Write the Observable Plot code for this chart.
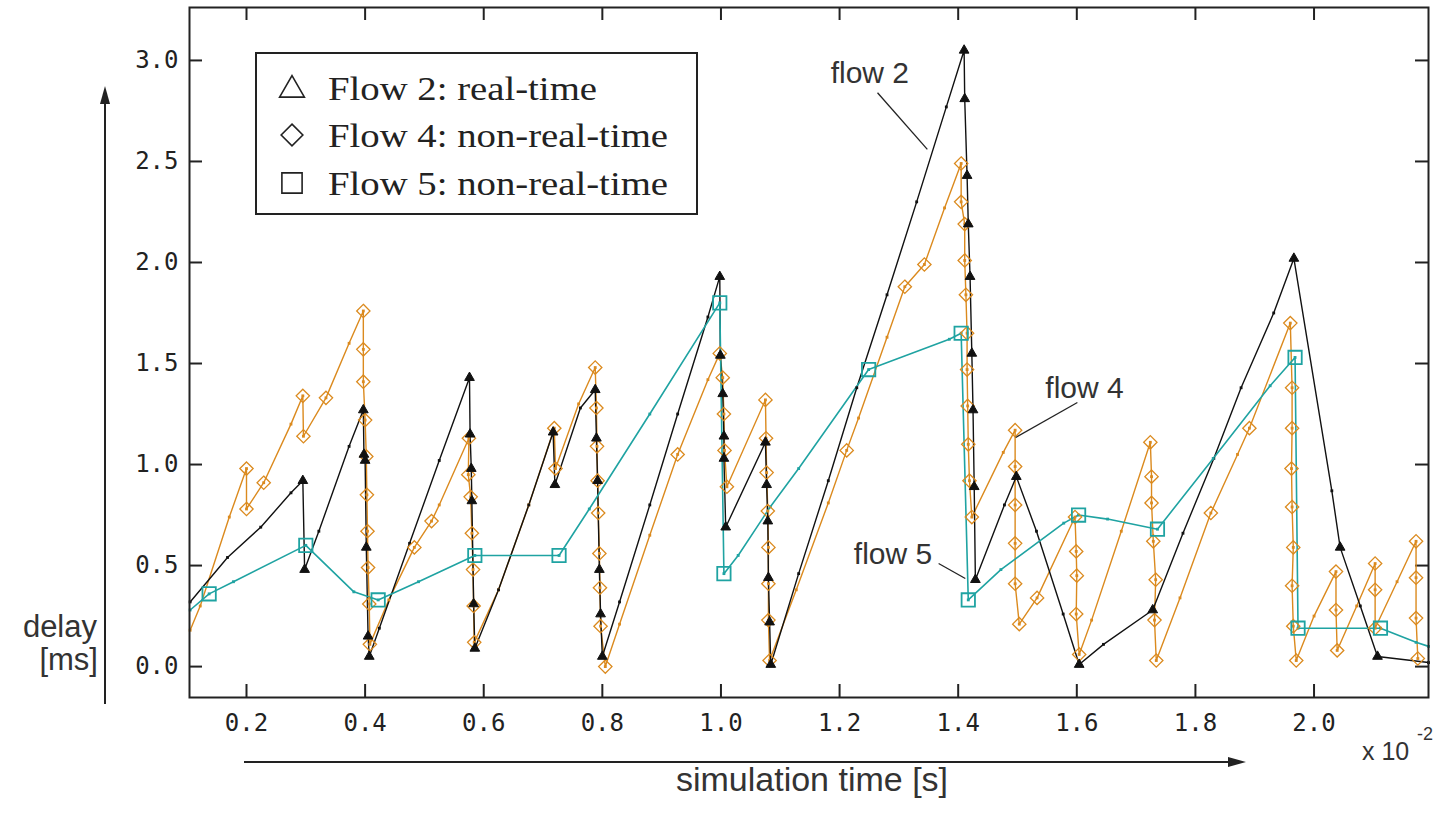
<!DOCTYPE html>
<html><head><meta charset="utf-8">
<script src="https://cdn.jsdelivr.net/npm/d3@7"></script>
<script src="https://cdn.jsdelivr.net/npm/@observablehq/plot@0.6"></script>
<style>
body{margin:0;background:#fff;}
#wrap{position:relative;width:1444px;height:815px;}
#wrap svg{position:absolute;left:0;top:0;}
</style></head><body><div id="wrap"></div>
<script>
// ---- data (time in 10^-2 s, delay in ms); mark 1 = large symbol, 0 = small dot ----
const flow2Time  = [0.105,0.168,0.224,0.275,0.295,0.298,0.322,0.373,0.397,0.398,0.400,0.402,0.405,0.407,0.424,0.475,0.525,0.576,0.577,0.579,0.580,0.583,0.585,0.625,0.676,0.717,0.720,0.763,0.788,0.790,0.792,0.795,0.797,0.800,0.829,0.880,0.927,0.978,0.998,0.999,1.003,1.005,1.005,1.008,1.075,1.077,1.079,1.080,1.082,1.084,1.131,1.181,1.229,1.280,1.330,1.380,1.410,1.411,1.415,1.417,1.420,1.423,1.425,1.427,1.429,1.478,1.498,1.532,1.577,1.604,1.645,1.728,1.779,1.831,1.877,1.932,1.966,2.030,2.044,2.078,2.107,2.193];
const flow2Delay = [0.32,0.54,0.69,0.86,0.92,0.48,0.67,1.09,1.27,1.05,1.02,0.59,0.15,0.05,0.19,0.61,1.02,1.43,1.15,0.98,0.82,0.31,0.09,0.38,0.80,1.16,0.90,1.28,1.37,1.13,0.92,0.48,0.26,0.05,0.32,0.80,1.25,1.73,1.93,1.54,1.35,1.14,1.03,0.69,1.11,0.90,0.72,0.44,0.22,0.01,0.46,0.92,1.38,1.84,2.30,2.77,3.05,2.81,2.43,2.19,1.93,1.55,1.27,0.89,0.43,0.80,0.94,0.67,0.26,0.01,0.11,0.28,0.66,1.03,1.38,1.75,2.02,0.87,0.59,0.30,0.05,0.02];
const flow2Mark  = [0,0,0,0,1,1,0,0,1,1,1,1,1,1,0,0,0,1,1,1,1,1,1,0,0,1,1,0,1,1,1,1,1,1,0,0,0,0,1,1,1,1,1,1,1,1,1,1,1,1,0,0,0,0,0,0,1,1,1,1,1,1,1,1,1,0,1,0,0,1,0,1,0,0,0,0,1,0,1,0,1,0];

const flow4Time  = [0.105,0.122,0.171,0.200,0.200,0.229,0.275,0.295,0.296,0.334,0.373,0.397,0.397,0.397,0.400,0.402,0.403,0.404,0.405,0.407,0.408,0.440,0.483,0.512,0.525,0.575,0.574,0.578,0.580,0.582,0.583,0.584,0.625,0.676,0.719,0.721,0.760,0.788,0.790,0.791,0.792,0.793,0.795,0.796,0.797,0.805,0.829,0.880,0.927,0.978,0.998,1.003,1.005,1.006,1.010,1.075,1.076,1.077,1.079,1.080,1.080,1.080,1.082,1.127,1.181,1.212,1.232,1.280,1.310,1.343,1.377,1.405,1.405,1.411,1.411,1.413,1.415,1.415,1.416,1.417,1.419,1.423,1.476,1.496,1.496,1.496,1.496,1.496,1.503,1.533,1.597,1.599,1.600,1.599,1.604,1.625,1.675,1.724,1.726,1.726,1.729,1.733,1.731,1.734,1.774,1.826,1.871,1.891,1.960,1.963,1.963,1.962,1.963,1.965,1.963,1.965,1.970,2.000,2.037,2.037,2.039,2.072,2.103,2.103,2.103,2.140,2.172,2.172,2.172,2.175];
const flow4Delay = [0.18,0.30,0.74,0.98,0.78,0.91,1.20,1.34,1.14,1.33,1.60,1.76,1.57,1.41,1.22,1.04,0.85,0.67,0.49,0.31,0.11,0.33,0.59,0.72,0.80,1.13,0.95,0.84,0.66,0.48,0.30,0.12,0.38,0.80,1.18,0.98,1.30,1.48,1.28,1.09,0.92,0.76,0.56,0.39,0.20,0.00,0.21,0.65,1.05,1.42,1.55,1.43,1.25,1.07,0.89,1.32,1.13,0.96,0.77,0.59,0.41,0.23,0.03,0.38,0.81,1.07,1.23,1.63,1.88,1.99,2.27,2.49,2.30,2.19,2.01,1.84,1.65,1.47,1.29,1.10,0.92,0.74,1.06,1.17,0.99,0.80,0.61,0.41,0.21,0.34,0.74,0.57,0.45,0.26,0.06,0.23,0.67,1.11,0.94,0.81,0.62,0.43,0.23,0.03,0.34,0.76,1.05,1.18,1.70,1.38,1.18,0.98,0.79,0.59,0.40,0.20,0.03,0.25,0.47,0.28,0.08,0.30,0.51,0.38,0.19,0.42,0.62,0.44,0.24,0.04];
const flow4Mark  = [0,0,0,1,1,1,0,1,1,1,0,1,1,1,1,1,1,1,1,1,1,0,1,1,0,1,1,1,1,1,1,1,0,0,1,1,0,1,1,1,1,1,1,1,1,1,0,0,1,0,1,1,1,1,1,1,1,1,1,1,1,1,1,0,0,1,0,0,1,1,0,1,1,1,1,1,1,1,1,1,1,1,0,1,1,1,1,1,1,1,1,1,1,1,1,0,0,1,1,1,1,1,1,1,0,1,0,1,1,1,1,1,1,1,1,1,1,0,1,1,1,0,1,1,1,0,1,1,1,1];

const flow5Time  = [0.105,0.137,0.178,0.300,0.381,0.422,0.490,0.585,0.727,0.778,0.880,0.998,1.005,1.029,1.083,1.131,1.249,1.385,1.405,1.417,1.472,1.578,1.603,1.652,1.736,1.830,1.926,1.968,1.973,2.112,2.172,2.193];
const flow5Delay = [0.28,0.36,0.42,0.60,0.37,0.33,0.42,0.55,0.55,0.78,1.25,1.80,0.46,0.55,0.79,0.98,1.47,1.62,1.65,0.33,0.48,0.71,0.75,0.73,0.68,1.03,1.39,1.53,0.19,0.19,0.12,0.10];
const flow5Mark  = [0,1,0,1,0,1,0,1,1,0,0,1,1,0,0,0,1,0,1,1,0,0,1,0,1,0,0,1,1,1,0,0];

const xTicks = [0.2,0.4,0.6,0.8,1.0,1.2,1.4,1.6,1.8,2.0];
const yTicks = [0.0,0.5,1.0,1.5,2.0,2.5,3.0];
const legendLabels = ["Flow 2: real-time","Flow 4: non-real-time","Flow 5: non-real-time"];
const annoText  = ["flow 2","flow 4","flow 5"];
const annoX     = [1.185,1.547,1.224];
const annoY     = [2.89,1.327,0.51];
const leaderX1  = [1.264,1.601,1.367];
const leaderY1  = [2.84,1.307,0.51];
const leaderX2  = [1.348,1.497,1.412];
const leaderY2  = [2.56,1.134,0.436];

const BLACK = "#111", ORANGE = "#db8a1e", TEAL = "#1fa3a2";

const rows = (t, d, m) => t.map((v, i) => ({t: v, d: d[i], m: m[i]}));
const f2 = rows(flow2Time, flow2Delay, flow2Mark);
const f4 = rows(flow4Time, flow4Delay, flow4Mark);
const f5 = rows(flow5Time, flow5Delay, flow5Mark);
const annos = annoText.map((s, i) => ({s, x: annoX[i], y: annoY[i], x1: leaderX1[i], y1: leaderY1[i], x2: leaderX2[i], y2: leaderY2[i]}));

const W = 1444, H = 815, mL = 189, mR = 16, mT = 7, mB = 118;
const fw = W - mL - mR, fh = H - mT - mB, tk = 13;

const chart = Plot.plot({
  width: W, height: H, marginLeft: mL, marginRight: mR, marginTop: mT, marginBottom: mB,
  x: {domain: [0.1039, 2.193]},
  y: {domain: [-0.153, 3.262]},
  style: {fontFamily: "'DejaVu Sans Mono', monospace", fontSize: "24px", color: "#222", background: "white"},
  marks: [
    Plot.ruleX(xTicks, {x: d => d, insetTop: fh - tk, stroke: "#222", strokeWidth: 2}),
    Plot.ruleX(xTicks, {x: d => d, insetBottom: fh - tk, stroke: "#222", strokeWidth: 2}),
    Plot.ruleY(yTicks, {y: d => d, insetRight: fw - tk, stroke: "#222", strokeWidth: 2}),
    Plot.ruleY(yTicks, {y: d => d, insetLeft: fw - tk, stroke: "#222", strokeWidth: 2}),
    Plot.axisX(xTicks, {tickSize: 0, tickPadding: 16, tickFormat: d => d.toFixed(1), label: null, fontSize: 24}),
    Plot.axisY(yTicks, {tickSize: 0, tickPadding: 11, tickFormat: d => d.toFixed(1), label: null, fontSize: 24}),
    Plot.line(f4, {x: "t", y: "d", stroke: ORANGE, strokeWidth: 1.4}),
    Plot.line(f2, {x: "t", y: "d", stroke: BLACK, strokeWidth: 1.4}),
    Plot.line(f5, {x: "t", y: "d", stroke: TEAL, strokeWidth: 1.6}),
    Plot.dot(f4, {x: "t", y: "d", symbol: "square", r: 1.6, fill: ORANGE}),
    Plot.dot(f2, {x: "t", y: "d", symbol: "square", r: 1.6, fill: BLACK}),
    Plot.dot(f5, {x: "t", y: "d", symbol: "square", r: 1.6, fill: TEAL}),
    Plot.dot(f4.filter(d => d.m), {x: "t", y: "d", symbol: "diamond2", r: 6, stroke: ORANGE, strokeWidth: 1.3, fill: "none"}),
    Plot.dot(f2.filter(d => d.m), {x: "t", y: "d", symbol: "triangle", r: 3.6, fill: BLACK, stroke: BLACK, strokeWidth: 1}),
    Plot.dot(f5.filter(d => d.m), {x: "t", y: "d", symbol: "square2", r: 8.5, stroke: TEAL, strokeWidth: 1.8, fill: "none"}),
    Plot.link(annos, {x1: "x1", y1: "y1", x2: "x2", y2: "y2", stroke: "#222", strokeWidth: 1.3}),
    Plot.text(annos, {x: "x", y: "y", text: "s", textAnchor: "start", lineAnchor: "bottom", fontFamily: "'Liberation Sans', Arial, sans-serif", fontSize: 30, fill: "#333"}),
    Plot.frame({stroke: "#222", strokeWidth: 2})
  ]
});
document.getElementById("wrap").appendChild(chart);

// ---- decorations: axis arrows, axis titles, exponent, legend ----
const svg = d3.select(chart);
const g = svg.append("g").attr("fill", "#222").attr("stroke", "#222");
// y arrow
g.append("line").attr("x1", 105).attr("x2", 105).attr("y1", 704).attr("y2", 100).attr("stroke-width", 2);
g.append("path").attr("d", "M105,86 L100,104 L110,104 Z").attr("stroke", "none");
// x arrow
g.append("line").attr("x1", 244).attr("x2", 1232).attr("y1", 762).attr("y2", 762).attr("stroke-width", 2);
g.append("path").attr("d", "M1246,762 L1228,757 L1228,767 Z").attr("stroke", "none");
const sans = "'Liberation Sans', Arial, sans-serif";
const t = svg.append("g").attr("fill", "#333").attr("font-family", sans);
t.append("text").attr("x", 97).attr("y", 637).attr("text-anchor", "end").attr("font-size", 31).text("delay");
t.append("text").attr("x", 98).attr("y", 670).attr("text-anchor", "end").attr("font-size", 31).text("[ms]");
t.append("text").attr("x", 812).attr("y", 791).attr("text-anchor", "middle").attr("font-size", 34).text("simulation time [s]");
t.append("text").attr("x", 1362).attr("y", 760).attr("text-anchor", "start").attr("font-size", 25).text("x 10");
t.append("text").attr("x", 1417).attr("y", 740).attr("text-anchor", "start").attr("font-size", 18).text("-2");

// legend
const lg = svg.append("g").attr("transform", "translate(256,53)");
lg.append("rect").attr("width", 441).attr("height", 161).attr("fill", "white").attr("stroke", "#222").attr("stroke-width", 2);
const rowY = [35, 82, 130];
const symPaths = [
  d3.symbol(d3.symbolTriangle2, 440)(),
  d3.symbol(d3.symbolDiamond2, 300)(),
  d3.symbol(d3.symbolSquare2, 520)()
];
const stretch = 1.14;
legendLabels.forEach((lab, i) => {
  lg.append("path").attr("d", symPaths[i]).attr("transform", `translate(36,${rowY[i] + (i === 0 ? 2 : 0)})`).attr("fill", "none").attr("stroke", "#222").attr("stroke-width", 1.6);
  lg.append("text").attr("transform", `translate(72,${rowY[i]}) scale(${stretch},1)`).attr("dy", "0.35em").attr("text-anchor", "start").attr("font-family", "'Liberation Serif', 'Times New Roman', serif").attr("font-size", 34).attr("fill", "#222").text(lab);
});
</script></body></html>
